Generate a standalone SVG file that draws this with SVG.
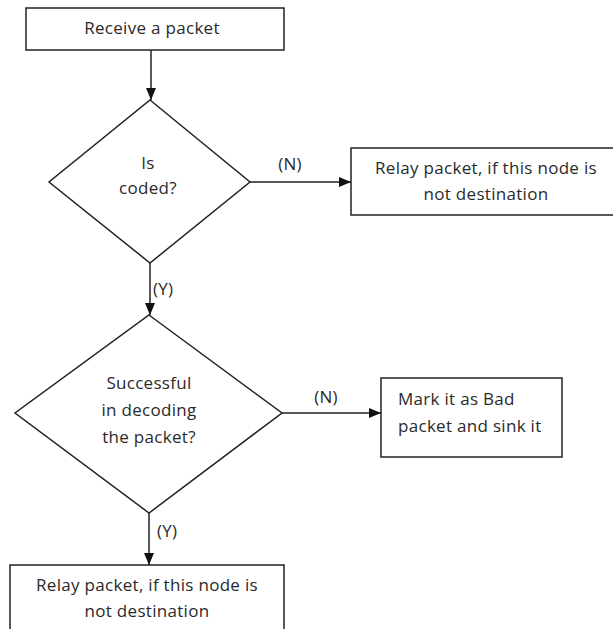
<svg xmlns="http://www.w3.org/2000/svg" width="613" height="629" viewBox="0 0 613 629">
  <style>
    .shape { fill: #ffffff; stroke: #222222; stroke-width: 1.5; }
    .edge { fill: none; stroke: #222222; stroke-width: 1.5; }
    .lbl { font-family: "Open Sans", "Noto Sans", sans-serif; font-size: 17px; letter-spacing: 0.3px; fill: #2a2a2a; }
    .mid { text-anchor: middle; }
  </style>
  <defs>
    <marker id="arrow" markerUnits="userSpaceOnUse" markerWidth="12" markerHeight="10" refX="12" refY="5" orient="auto">
      <path d="M0,0 L12,5 L0,10 Z" fill="#111111"/>
    </marker>
  </defs>
  <rect width="613" height="629" fill="#ffffff"/>

  <!-- connectors -->
  <g id="connectors">
    <line class="edge" x1="151" y1="50" x2="151" y2="100" marker-end="url(#arrow)"/>
    <line class="edge" x1="250" y1="182" x2="351" y2="182" marker-end="url(#arrow)"/>
    <text class="lbl mid" x="290" y="170">(N)</text>
    <line class="edge" x1="150" y1="263" x2="150" y2="315" marker-end="url(#arrow)"/>
    <text class="lbl" x="153" y="295">(Y)</text>
    <line class="edge" x1="282" y1="413" x2="381" y2="413" marker-end="url(#arrow)"/>
    <text class="lbl mid" x="326" y="403">(N)</text>
    <line class="edge" x1="149" y1="513" x2="149" y2="565" marker-end="url(#arrow)"/>
    <text class="lbl" x="157" y="537">(Y)</text>
  </g>

  <!-- start: receive -->
  <g id="receive">
    <rect class="shape" x="26" y="8" width="258" height="42"/>
    <text class="lbl mid" x="152" y="34">Receive a packet</text>
  </g>

  <!-- decision: coded? -->
  <g id="is-coded">
    <polygon class="shape" points="150,100 250,182 150,263 49,182"/>
    <text class="lbl mid" x="148" y="169">Is</text>
    <text class="lbl mid" x="148" y="194">coded?</text>
  </g>

  <!-- relay when not coded -->
  <g id="relay-uncoded">
    <rect class="shape" x="351" y="148" width="272" height="67"/>
    <text class="lbl mid" x="486" y="174">Relay packet, if this node is</text>
    <text class="lbl mid" x="486" y="200">not destination</text>
  </g>

  <!-- decision: decoded? -->
  <g id="decoded">
    <polygon class="shape" points="149,315 282,413 149,513 15,413"/>
    <text class="lbl mid" x="149" y="389">Successful</text>
    <text class="lbl mid" x="149" y="416">in decoding</text>
    <text class="lbl mid" x="149" y="443">the packet?</text>
  </g>

  <!-- bad packet sink -->
  <g id="bad-packet">
    <rect class="shape" x="381" y="378" width="181" height="79"/>
    <text class="lbl" x="398" y="405">Mark it as Bad</text>
    <text class="lbl" x="398" y="432">packet and sink it</text>
  </g>

  <!-- relay after decoding -->
  <g id="relay-decoded">
    <rect class="shape" x="10" y="565" width="274" height="80"/>
    <text class="lbl mid" x="147" y="591">Relay packet, if this node is</text>
    <text class="lbl mid" x="147" y="617">not destination</text>
  </g>
</svg>
